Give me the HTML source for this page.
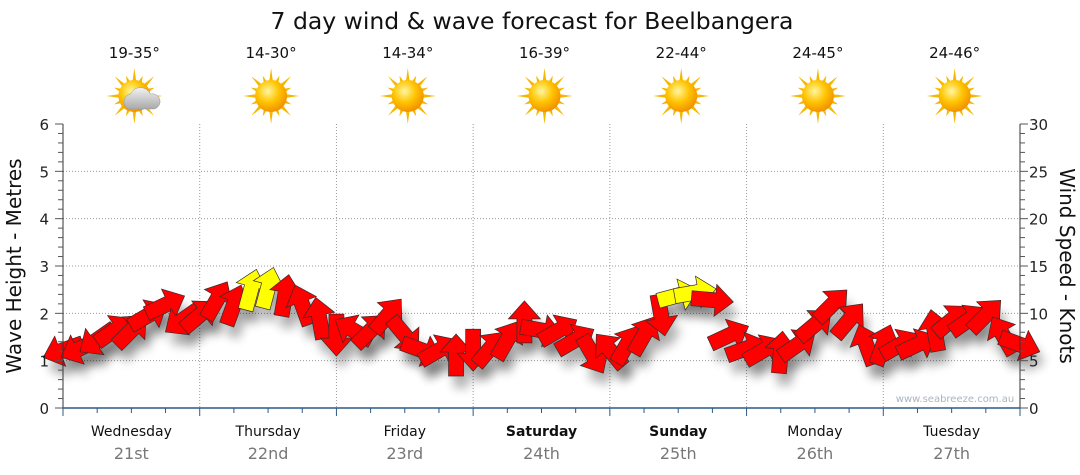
<!DOCTYPE html>
<html><head><meta charset="utf-8"><style>
body{margin:0;background:#fff;width:1080px;height:475px;overflow:hidden}
svg{display:block;font-family:"DejaVu Sans","Liberation Sans",sans-serif}
</style></head><body>
<svg id="c" width="1080" height="475">
<defs>
<filter id="sh" x="-50%" y="-50%" width="200%" height="200%"><feGaussianBlur stdDeviation="5"/></filter>
<radialGradient id="sun" cx="0.4" cy="0.35" r="0.7"><stop offset="0" stop-color="#fff6a0"/><stop offset="0.5" stop-color="#ffc400"/><stop offset="1" stop-color="#f08a00"/></radialGradient>
<linearGradient id="cl" x1="0" y1="0" x2="0" y2="1"><stop offset="0" stop-color="#f2f2f2"/><stop offset="1" stop-color="#a9a9a9"/></linearGradient>
</defs>
<text x="532" y="29" text-anchor="middle" font-size="23.5" fill="#111">7 day wind &amp; wave forecast for Beelbangera</text>
<g id="topg"></g>
<g id="grid"></g>
<g id="shadows"></g>
<g id="arrows"></g>
<g id="axes"></g>
<text x="955" y="402" text-anchor="middle" font-size="10" fill="#aab4c0">www.seabreeze.com.au</text>
<text transform="translate(21,266) rotate(-90)" text-anchor="middle" font-size="20" fill="#111">Wave Height - Metres</text>
<text transform="translate(1060,266) rotate(90)" text-anchor="middle" font-size="20" fill="#111">Wind Speed - Knots</text>
</svg>
<script>
const days=["Wednesday","Thursday","Friday","Saturday","Sunday","Monday","Tuesday"];
const dates=["21st","22nd","23rd","24th","25th","26th","27th"];
const temps=["19-35°","14-30°","14-34°","16-39°","22-44°","24-45°","24-46°"];
const waveTicks=[0,1,2,3,4,5,6];
const windTicks=[0,5,10,15,20,25,30];
const windKnots=[6.1,6.3,7.2,8.2,8.2,9.8,10.9,9.3,9.8,11.4,10.9,12.5,12.7,11.9,10.9,9.5,7.7,8.2,8.2,9.8,7.7,6.1,6.1,5.6,6.1,6.3,7.2,9.1,8.2,8.2,7.2,5.6,6.1,6.7,7.7,9.8,11.9,12.2,11.4,7.7,6.3,6.1,5.9,6.7,8.8,10.9,9.3,6.7,6.7,6.7,6.7,8.2,9.3,9.3,9.8,7.7,6.7];
const windDir=[250,245,235,55,45,60,65,235,50,30,20,15,15,10,340,350,180,300,45,40,140,110,60,0,180,40,30,0,100,60,60,150,320,30,30,170,75,80,95,65,70,60,5,55,50,45,40,340,20,60,65,350,50,55,45,330,110];
const gustFlag=[0,0,0,0,0,0,0,0,0,0,0,1,1,0,0,0,0,0,0,0,0,0,0,0,0,0,0,0,0,0,0,0,0,0,0,0,1,1,0,0,0,0,0,0,0,0,0,0,0,0,0,0,0,0,0,0,0];

const NS="http://www.w3.org/2000/svg";
const X0=63,X1=1020,Y0=408,Y1=124;
const dayW=(X1-X0)/7;
const yWave=v=>Y0-(v/6)*(Y0-Y1);
const yWind=v=>Y0-(v/30)*(Y0-Y1);
const xIdx=i=>X0+i*(X1-X0)/(windKnots.length-1);
function mk(tag,attrs,parent,txt){const e=document.createElementNS(NS,tag);for(const k in attrs)e.setAttribute(k,attrs[k]);if(txt!==undefined)e.textContent=txt;parent.appendChild(e);return e;}
const G=id=>document.getElementById(id);

const grid=G('grid');
waveTicks.forEach(v=>{if(v>0&&v<6){const l=mk('line',{x1:X0,x2:X1,y1:yWave(v),y2:yWave(v),stroke:'#999','stroke-dasharray':'1,2','stroke-width':1},grid);

}});
for(let d=1;d<7;d++){const l=mk('line',{x1:X0+d*dayW,x2:X0+d*dayW,y1:Y1,y2:Y0,stroke:'#999','stroke-dasharray':'1,2'},grid);

}

const ax=G('axes');
mk('line',{x1:X0,x2:X0,y1:Y1,y2:Y0,stroke:'#333'},ax);
mk('line',{x1:X1,x2:X1,y1:Y1,y2:Y0,stroke:'#333'},ax);
mk('line',{x1:X0,x2:X1,y1:Y0,y2:Y0,stroke:'#2a5a8a','stroke-width':1.5},ax);
for(let k=0;k<=30;k++){const y=yWave(k*0.2);const maj=k%5==0;
mk('line',{x1:X0-(maj?8:5),x2:X0,y1:y,y2:y,stroke:'#555'},ax);
mk('line',{x1:X1,x2:X1+(maj?8:5),y1:y,y2:y,stroke:'#555'},ax);}
waveTicks.forEach(v=>{const t=mk('text',{x:49,y:yWave(v)+6,'text-anchor':'end','font-size':15,fill:'#222'},ax,String(v));

});
windTicks.forEach(v=>{const t=mk('text',{x:1029,y:yWind(v)+6,'text-anchor':'start','font-size':15,fill:'#222'},ax,String(v));

});
for(let k=0;k<=28;k++){const x=X0+k*dayW/4;mk('line',{x1:x,x2:x,y1:Y0,y2:Y0+(k%4==0?8:5),stroke:'#2a5a8a'},ax);}
days.forEach((d,i)=>{const cx=X0+(i+0.5)*dayW;const bold=(d==="Saturday"||d==="Sunday");
const t=mk('text',{x:cx,y:436,'text-anchor':'middle','font-size':14,fill:'#111','font-weight':bold?'bold':'normal'},ax,d);


const t2=mk('text',{x:cx,y:459,'text-anchor':'middle','font-size':16,fill:'#777'},ax,dates[i]);

});

const topG=G('topg');
temps.forEach((tp,i)=>{const cx=X0+(i+0.5)*dayW+3;
const t=mk('text',{x:cx,y:58,'text-anchor':'middle','font-size':15,fill:'#111'},topG,tp);


const g=mk('g',{},topG);


const cy=96;
for(let r=0;r<16;r++){const a=r*Math.PI/8;const L=r%2?22:28;
mk('polygon',{points:`${cx+Math.cos(a)*L},${cy+Math.sin(a)*L} ${cx+Math.cos(a+0.14)*14},${cy+Math.sin(a+0.14)*14} ${cx+Math.cos(a-0.14)*14},${cy+Math.sin(a-0.14)*14}`,fill:'#f5b800'},g);}
mk('circle',{cx:cx,cy:cy,r:16,fill:'url(#sun)'},g);
if(i===0){mk('path',{d:`M${cx-6},${cy+13} a8,8 0 0 1 2,-15 a11,11 0 0 1 20,0 a7,7 0 0 1 4,15 z`,fill:'url(#cl)',stroke:'#999','stroke-width':0.5},g);}
});

const sh=G('shadows'),ar=G('arrows');
const pts="0,-21 16,-3 7.5,-3 7.5,21 -7.5,21 -7.5,-3 -16,-3";
windKnots.forEach((v,i)=>{const x=xIdx(i),y=yWind(v);
const s=mk('polygon',{points:pts,fill:'#000',opacity:0.3,filter:'url(#sh)',transform:`translate(${x+5},${y+12}) rotate(${windDir[i]})`},sh);


const a=mk('polygon',{points:pts,fill:gustFlag[i]?'#ffff00':'#ff0000',stroke:'#3a2a2a','stroke-width':0.7,transform:`translate(${x},${y}) rotate(${windDir[i]})`},ar);

});
</script>
</body></html>
